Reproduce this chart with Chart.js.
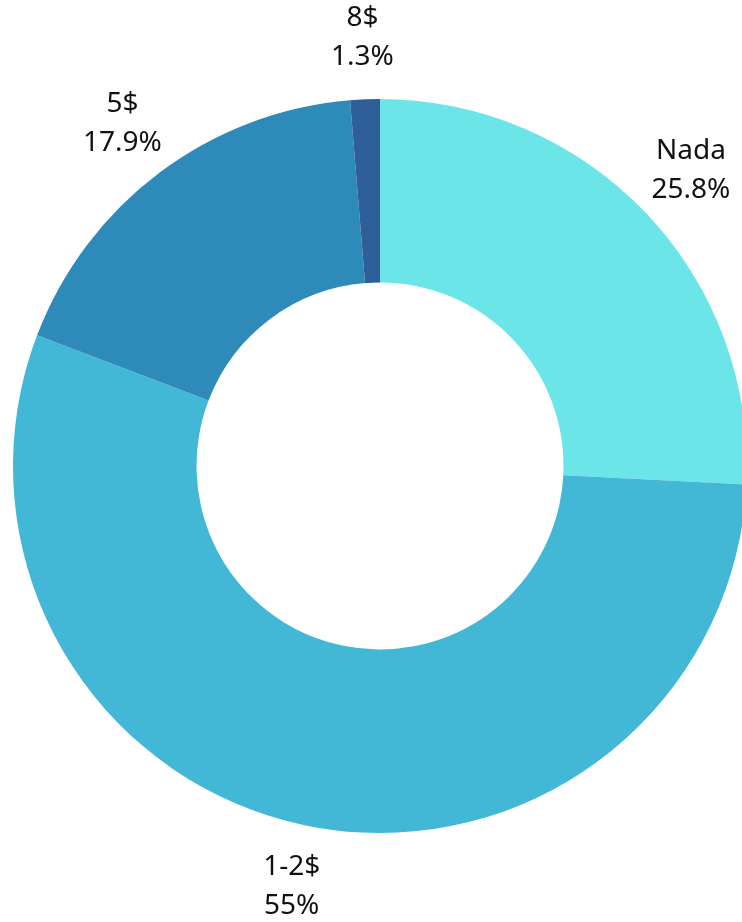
<!DOCTYPE html>
<html>

<head>
    <meta charset="utf-8" />
    <title>Donut</title>
    <style>
        html, body { margin: 0; padding: 0; background: #ffffff; overflow: hidden; }
        .wrap { width: 760px; height: 922px; }
    </style>
</head>

<body>
    <div class="wrap">
        <canvas id="chart" width="760" height="922"></canvas>
    </div>

    <script src="https://cdn.jsdelivr.net/npm/chart.js"></script>

    <script>
        // 데이터
        const labels = ['Nada', '1-2$', '5$', '8$'];
        const values = [25.8, 55, 17.9, 1.3];
        const percentText = ['25.8%', '55%', '17.9%', '1.3%'];
        const colors = ['#6be5e8', '#42b8d6', '#2e8bb9', '#2f5f98'];

        // 바깥 라벨 그리기
        const outerLabels = {
            id: 'outerLabels',
            afterDatasetsDraw(chart) {
                const ctx = chart.ctx;
                const meta = chart.getDatasetMeta(0);
                ctx.save();
                ctx.font = '28px "Noto Sans", sans-serif';
                ctx.fillStyle = '#111111';
                ctx.textAlign = 'center';
                ctx.textBaseline = 'middle';
                meta.data.forEach((arc, i) => {
                    const mid = (arc.startAngle + arc.endAngle) / 2;
                    const r = arc.outerRadius + 62;
                    const x = arc.x + Math.cos(mid) * r;
                    const y = arc.y + Math.sin(mid) * r;
                    ctx.fillText(labels[i], x, y - 19);
                    ctx.fillText(percentText[i], x, y + 20);
                });
                ctx.restore();
            }
        };

        new Chart(document.getElementById('chart'), {
            type: 'doughnut',
            data: {
                labels: labels,
                datasets: [{
                    data: values,
                    backgroundColor: colors,
                    borderWidth: 0
                }]
            },
            options: {
                responsive: false,
                animation: false,
                cutout: '50%',
                layout: {
                    padding: { top: 99, bottom: 89, left: 13, right: 13 }
                },
                plugins: {
                    legend: { display: false },
                    tooltip: { enabled: false }
                }
            },
            plugins: [outerLabels]
        });
    </script>
</body>

</html>
